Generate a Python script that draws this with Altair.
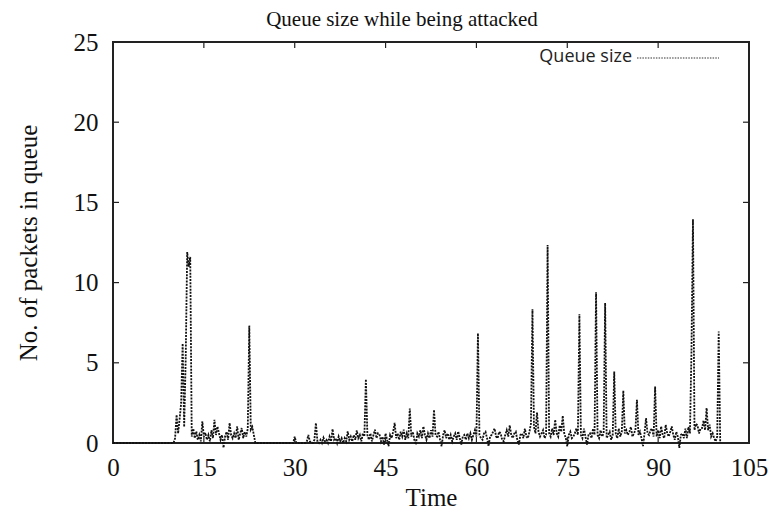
import altair as alt
import pandas as pd

# Simulation time (s) and queue occupancy (packets), sampled every 0.25 s
time_s = [
    0.0, 10.0,
    10.25, 10.5, 10.75, 11.0, 11.25, 11.5, 11.75, 12.0, 12.25, 12.5,
    12.75, 13.0, 13.25, 13.5, 13.75, 14.0, 14.25, 14.5, 14.75, 15.0,
    15.25, 15.5, 15.75, 16.0, 16.25, 16.5, 16.75, 17.0, 17.25, 17.5,
    17.75, 18.0, 18.25, 18.5, 18.75, 19.0, 19.25, 19.5, 19.75, 20.0,
    20.25, 20.5, 20.75, 21.0, 21.25, 21.5, 21.75, 22.0, 22.25, 22.5,
    22.75, 23.0, 23.25, 23.5, 29.75,
    30.0, 30.25, 30.5, 30.75, 31.0, 31.25, 31.5, 31.75, 32.0, 32.25,
    32.5, 32.75, 33.0, 33.25, 33.5, 33.75, 34.0, 34.25, 34.5, 34.75,
    35.0, 35.25, 35.5, 35.75, 36.0, 36.25, 36.5, 36.75, 37.0, 37.25,
    37.5, 37.75, 38.0, 38.25, 38.5, 38.75, 39.0, 39.25, 39.5, 39.75,
    40.0, 40.25, 40.5, 40.75, 41.0, 41.25, 41.5, 41.75, 42.0, 42.25,
    42.5, 42.75, 43.0, 43.25, 43.5, 43.75, 44.0, 44.25, 44.5, 44.75,
    45.0, 45.25, 45.5, 45.75, 46.0, 46.25, 46.5, 46.75, 47.0, 47.25,
    47.5, 47.75, 48.0, 48.25, 48.5, 48.75, 49.0, 49.25, 49.5, 49.75,
    50.0, 50.25, 50.5, 50.75, 51.0, 51.25, 51.5, 51.75, 52.0, 52.25,
    52.5, 52.75, 53.0, 53.25, 53.5, 53.75, 54.0, 54.25, 54.5, 54.75,
    55.0, 55.25, 55.5, 55.75, 56.0, 56.25, 56.5, 56.75, 57.0, 57.25,
    57.5, 57.75, 58.0, 58.25, 58.5, 58.75, 59.0, 59.25, 59.5, 59.75,
    60.0, 60.25, 60.5, 60.75, 61.0, 61.25, 61.5, 61.75, 62.0, 62.25,
    62.5, 62.75, 63.0, 63.25, 63.5, 63.75, 64.0, 64.25, 64.5, 64.75,
    65.0, 65.25, 65.5, 65.75, 66.0, 66.25, 66.5, 66.75, 67.0, 67.25,
    67.5, 67.75, 68.0, 68.25, 68.5, 68.75, 69.0, 69.25, 69.5, 69.75,
    70.0, 70.25, 70.5, 70.75, 71.0, 71.25, 71.5, 71.75, 72.0, 72.25,
    72.5, 72.75, 73.0, 73.25, 73.5, 73.75, 74.0, 74.25, 74.5, 74.75,
    75.0, 75.25, 75.5, 75.75, 76.0, 76.25, 76.5, 76.75, 77.0, 77.25,
    77.5, 77.75, 78.0, 78.25, 78.5, 78.75, 79.0, 79.25, 79.5, 79.75,
    80.0, 80.25, 80.5, 80.75, 81.0, 81.25, 81.5, 81.75, 82.0, 82.25,
    82.5, 82.75, 83.0, 83.25, 83.5, 83.75, 84.0, 84.25, 84.5, 84.75,
    85.0, 85.25, 85.5, 85.75, 86.0, 86.25, 86.5, 86.75, 87.0, 87.25,
    87.5, 87.75, 88.0, 88.25, 88.5, 88.75, 89.0, 89.25, 89.5, 89.75,
    90.0, 90.25, 90.5, 90.75, 91.0, 91.25, 91.5, 91.75, 92.0, 92.25,
    92.5, 92.75, 93.0, 93.25, 93.5, 93.75, 94.0, 94.25, 94.5, 94.75,
    95.0, 95.25, 95.5, 95.75, 96.0, 96.25, 96.5, 96.75, 97.0, 97.25,
    97.5, 97.75, 98.0, 98.25, 98.5, 98.75, 99.0, 99.25, 99.5, 99.75,
    100.0, 100.25,
]
queue_pkts = [
    0.0, 0.0,
    0.3, 1.76, 0.6, 1.5, 2.5, 6.2, 1.0, 5.2, 11.9, 11.0,
    11.6, 0.4, 0.9, 0.3, 0.72, 0.2, 0.5, 0.1, 1.35, 0.4,
    0.64, 0.2, 0.5, 0.1, 0.8, 0.3, 1.45, 0.5, 1.03, 0.6,
    0.2, 0.5, -0.3, 0.4, 0.7, 0.2, 1.25, 0.5, 0.3, 0.6,
    0.3, 1.03, 0.2, 0.6, 0.93, 0.3, 0.7, 0.4, 0.9, 7.32,
    0.83, 1.0, 0.5, 0.0, 0.0,
    0.4, 0.0, 0.0, 0.0, 0.0, 0.0, 0.0, 0.0, 0.1, 0.5,
    0.1, 0.0, 0.0, 0.2, 1.25, 0.1, 0.0, 0.2, 0.0, 0.33,
    0.1, 0.2, 0.0, 0.4, 0.1, 0.87, 0.2, 0.3, 0.0, 0.4,
    0.1, 0.3, 0.0, 0.3, 0.1, 0.72, 0.2, 0.4, 0.1, 0.5,
    0.2, 0.79, 0.3, 0.5, 0.1, 0.6, 0.4, 3.98, 0.5, 0.2,
    0.6, 0.1, 0.5, 0.83, 0.3, 0.6, 0.52, 0.1, 0.4, -0.1,
    0.6, 0.2, -0.2, 0.5, 0.3, 0.7, 1.25, 0.3, 0.6, 0.2,
    0.7, 0.4, 0.83, 0.2, 0.6, 0.3, 2.15, 0.4, 0.7, 0.2,
    -0.1, 0.6, 0.4, 0.8, 0.3, 1.03, 0.5, 0.2, 0.6, 0.3,
    0.8, 0.4, 2.07, 0.5, 0.4, 0.7, 0.2, -0.2, 0.5, 0.8,
    0.3, 0.6, 0.2, 0.5, 0.1, 0.4, 0.6, 0.2, 0.72, 0.3,
    -0.1, 0.4, 0.5, 0.2, 0.6, 0.3, 0.6, 0.2, 0.5, 0.8,
    0.4, 6.85, 0.5, 0.3, 0.2, 0.6, 0.7, 0.3, -0.2, 0.4,
    0.5, 0.7, 0.9, 0.4, 0.3, 0.7, 0.6, 0.2, 0.1, 0.5,
    0.8, 0.4, 1.1, 0.5, 0.3, 0.6, 0.7, 0.2, -0.1, 0.5,
    0.6, 0.3, 0.9, 0.4, 0.3, 0.7, 1.2, 8.34, 1.0, 0.6,
    1.9, 0.7, 0.4, 0.6, 0.8, 0.3, 0.5, 12.35, 0.6, 0.4,
    0.9, 0.5, 1.45, 0.6, 0.4, 1.1, 0.7, 1.7, 0.6, 0.3,
    -0.2, 0.5, 0.7, 0.3, 0.4, 0.6, 0.9, 0.5, 8.03, 0.5,
    0.3, 0.9, 0.4, -0.1, 0.5, 0.6, 0.3, 0.9, 0.5, 9.4,
    0.5, 0.3, 0.8, 0.4, 0.6, 8.72, 0.3, 0.5, 0.7, 0.2,
    0.5, 4.46, 0.6, 0.3, 0.9, 0.4, 0.7, 3.26, 0.6, 0.8,
    0.5, 0.7, 1.0, 0.4, 0.6, 0.8, 2.7, 0.5, 0.7, 0.3,
    -0.2, 0.6, 1.55, 0.6, 0.5, 0.8, 0.9, 0.4, 3.52, 0.4,
    0.8, 0.3, 1.03, 0.5, 0.3, 1.14, 0.6, 0.4, 0.7, 1.03,
    0.5, 0.2, 0.7, 0.4, -0.3, 0.5, 0.6, 0.3, 0.9, 0.3,
    1.0, 0.6, 5.7, 13.95, 0.8, 1.2, 1.1, 0.6, 0.9, 0.93,
    1.4, 0.8, 2.18, 0.8, 1.14, 0.4, 0.6, 0.3, 0.1, 0.4,
    6.95, 0.0,
]

x_ticks = [0, 15, 30, 45, 60, 75, 90, 105]
y_ticks = [0, 5, 10, 15, 20, 25]

W, H = 636, 401
SERIF = "Liberation Serif"
INK = "#111111"

df = pd.DataFrame({"t": time_s, "q": queue_pkts})
xt = pd.DataFrame({"v": x_ticks[1:-1]})
yt = pd.DataFrame({"v": y_ticks[1:-1]})

x_scale = alt.Scale(domain=[0, 105], nice=False, zero=False)
y_scale = alt.Scale(domain=[0, 25], nice=False)

line = alt.Chart(df).mark_line(
    color=INK, strokeWidth=1.8, strokeDash=[2, 1.2], clip=False
).encode(
    x=alt.X("t:Q", scale=x_scale, title="Time",
            axis=alt.Axis(values=x_ticks, labelFlush=False, labelOverlap=False,
                          labelFont=SERIF, labelFontSize=25, labelPadding=12,
                          titleFont=SERIF, titleFontSize=25, titlePadding=5)),
    y=alt.Y("q:Q", scale=y_scale, title="No. of packets in queue",
            axis=alt.Axis(values=y_ticks, labelFlush=False, labelOverlap=False,
                          labelFont=SERIF, labelFontSize=25, labelPadding=15,
                          titleFont=SERIF, titleFontSize=25, titlePadding=32)),
)

# inward ticks on all four sides of the frame
tick_style = dict(color="#222222", strokeWidth=1.2)
tick_bottom = alt.Chart(xt).mark_rule(**tick_style).encode(
    x=alt.X("v:Q", scale=x_scale), y=alt.value(H), y2=alt.value(H - 6))
tick_top = alt.Chart(xt).mark_rule(**tick_style).encode(
    x=alt.X("v:Q", scale=x_scale), y=alt.value(0), y2=alt.value(6))
tick_left = alt.Chart(yt).mark_rule(**tick_style).encode(
    y=alt.Y("v:Q", scale=y_scale), x=alt.value(0), x2=alt.value(6))
tick_right = alt.Chart(yt).mark_rule(**tick_style).encode(
    y=alt.Y("v:Q", scale=y_scale), x=alt.value(W - 6), x2=alt.value(W))

# chart title above the frame
title = alt.Chart(pd.DataFrame({"s": ["Queue size while being attacked"]})).mark_text(
    align="center", baseline="middle", font=SERIF, fontSize=21, color=INK
).encode(text="s:N", x=alt.value(289), y=alt.value(-22))

# key in the upper right corner
key_text = alt.Chart(pd.DataFrame({"s": ["Queue size"]})).mark_text(
    align="right", baseline="middle", font="Open Sans", fontSize=18, color="#222222"
).encode(text="s:N", x=alt.value(519), y=alt.value(15))
key_line = alt.Chart(pd.DataFrame({"s": ["Queue size"]})).mark_rule(
    color="#333333", strokeWidth=1.2, strokeDash=[1.5, 1.2]
).encode(x=alt.value(524), x2=alt.value(606), y=alt.value(16))

chart = alt.layer(
    line, tick_bottom, tick_top, tick_left, tick_right, title, key_line, key_text
).properties(
    width=W, height=H,
    padding={"left": 113, "top": 42, "right": 22, "bottom": 79},
    autosize=alt.AutoSizeParams(type="none"),
).configure_view(
    stroke="#222222", strokeWidth=2
).configure_axis(
    domain=False, grid=False, ticks=False,
    labelColor=INK, titleColor=INK, titleFontWeight="normal",
)

chart.save("out.html", embed_options={"renderer": "svg", "actions": False})
